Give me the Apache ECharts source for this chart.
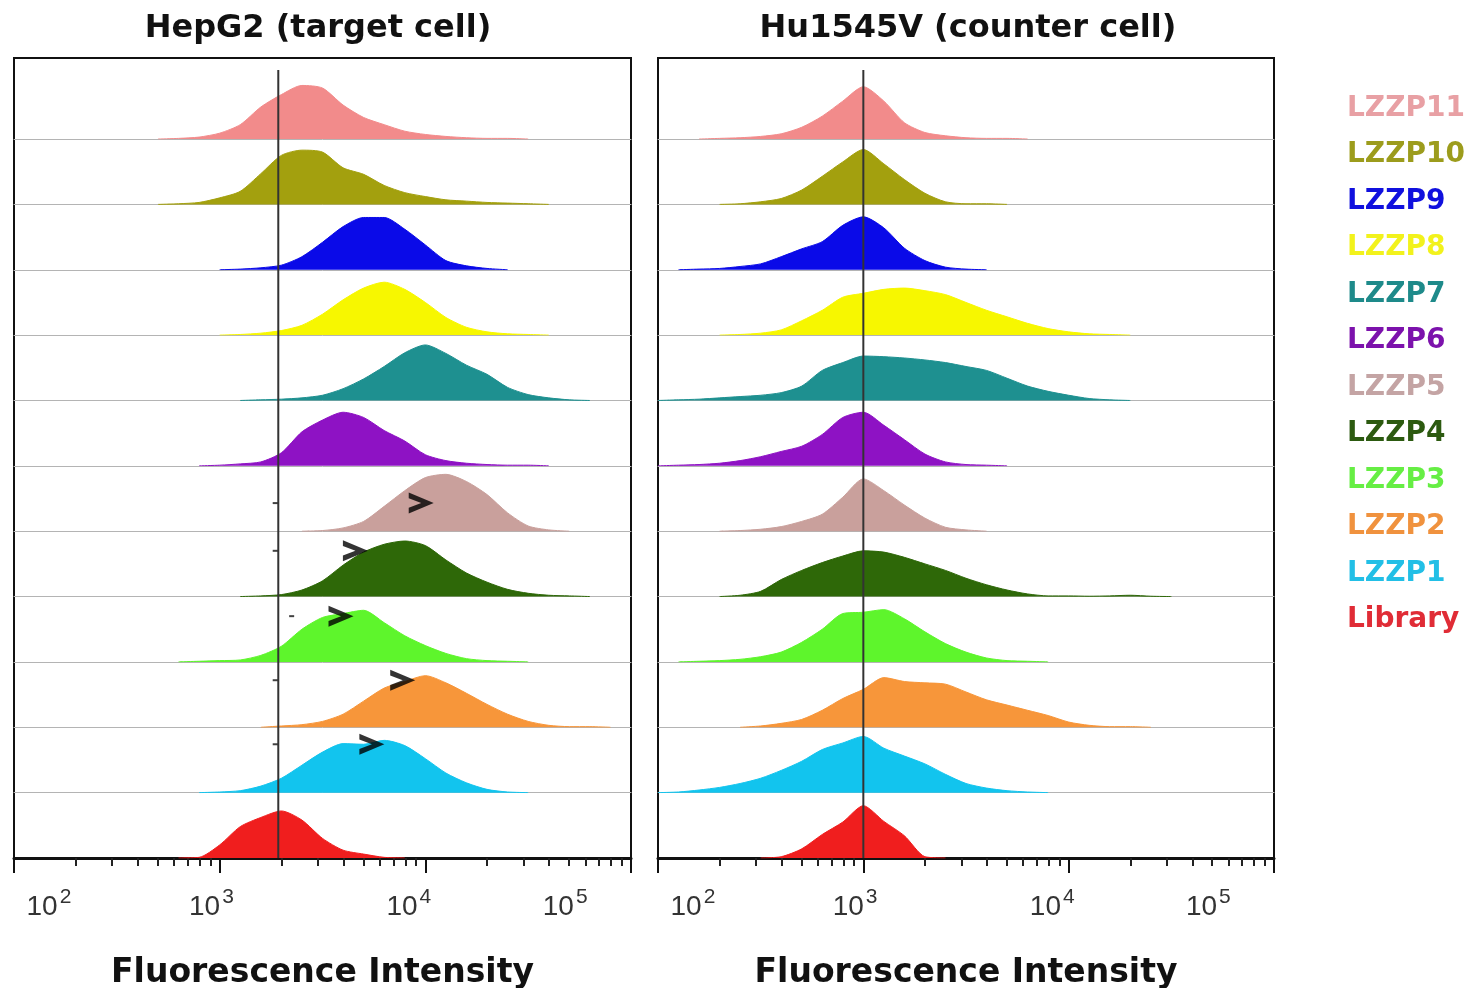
<!DOCTYPE html>
<html>
<head>
<meta charset="utf-8">
<script src="https://cdn.jsdelivr.net/npm/echarts@6/dist/echarts.min.js"></script>
<style>
  html, body { margin: 0; background: #fff; }
  #chart { width: 1478px; height: 988px; }
</style>
</head>
<body>
<div id="chart"></div>
<script>
// rows from the bottom of each panel up
const names = ['Library', 'LZZP1', 'LZZP2', 'LZZP3', 'LZZP4', 'LZZP5', 'LZZP6', 'LZZP7', 'LZZP8', 'LZZP9', 'LZZP10', 'LZZP11'];
const colors = ['#f01e1e', '#12c4ee', '#f7963a', '#5ef52c', '#2e6808', '#c9a09c', '#8e12c4', '#1e9090', '#f7f700', '#0a0ae8', '#a3a00e', '#f28b8b'];
const legendColors = ['#e02c36', '#22bfe6', '#f0923e', '#66ee44', '#2c5a10', '#c4a4a4', '#7c12ac', '#1e8a8a', '#f2f21c', '#1010de', '#9c9c1c', '#e8a0a4'];

// histogram heights (% of row height) on log10 bins of width 0.1, first bin at *Start
const binWidth = 0.1;
const hepStart = [2.8, 2.9, 3.2, 2.8, 3.1, 3.4, 2.9, 3.1, 3.0, 3.0, 2.7, 2.7];
const hepHeights = [
  [0, 1, 20, 48, 62, 72, 58, 30, 12, 6, 1, 0],
  [0, 1, 3, 10, 22, 42, 62, 75, 74, 80, 72, 52, 30, 15, 5, 1, 0],
  [0, 2, 4, 9, 20, 40, 60, 70, 79, 68, 52, 35, 20, 9, 3, 1, 1, 0],
  [0, 1, 2, 3, 10, 24, 50, 68, 74, 79, 60, 40, 25, 13, 5, 2, 1, 0],
  [0, 1, 3, 10, 24, 48, 68, 80, 85, 78, 56, 36, 22, 11, 5, 2, 1, 0],
  [0, 1, 5, 15, 38, 62, 82, 87, 76, 56, 28, 8, 2, 0],
  [0, 1, 3, 6, 20, 52, 70, 82, 74, 54, 38, 17, 8, 4, 2, 1, 1, 0],
  [0, 1, 2, 4, 8, 18, 33, 52, 73, 85, 72, 54, 40, 20, 9, 4, 1, 0],
  [0, 1, 3, 7, 15, 32, 54, 72, 81, 70, 50, 27, 12, 5, 2, 1, 0],
  [0, 1, 3, 7, 20, 42, 66, 80, 80, 62, 38, 14, 6, 2, 0],
  [0, 1, 3, 10, 20, 47, 75, 83, 80, 56, 46, 29, 18, 12, 7, 5, 3, 2, 1, 0],
  [0, 1, 3, 9, 22, 49, 68, 82, 78, 52, 33, 22, 12, 7, 4, 2, 1, 1, 0]
];
const huStart = [2.5, 2.0, 2.4, 2.1, 2.3, 2.3, 2.0, 2.0, 2.3, 2.1, 2.3, 2.2];
const huHeights = [
  [0, 2, 14, 36, 55, 80, 56, 34, 2, 0],
  [0, 1, 4, 8, 14, 22, 34, 48, 66, 76, 86, 68, 56, 44, 28, 14, 7, 3, 1, 0],
  [0, 2, 6, 12, 26, 44, 58, 76, 70, 68, 66, 54, 42, 34, 26, 18, 8, 3, 1, 1, 0],
  [0, 1, 2, 4, 8, 15, 30, 50, 74, 76, 80, 66, 46, 28, 15, 6, 2, 1, 0],
  [0, 2, 8, 26, 40, 52, 62, 70, 68, 60, 50, 40, 28, 18, 10, 4, 1, 1, 0.5, 1, 2, 0.5, 0],
  [0, 1, 3, 7, 15, 26, 52, 80, 62, 40, 20, 6, 2, 0],
  [0, 1, 2, 4, 8, 14, 22, 30, 48, 74, 82, 62, 40, 18, 6, 2, 1, 0],
  [0, 1, 2, 4, 6, 8, 12, 22, 46, 58, 68, 67, 65, 62, 58, 52, 46, 34, 22, 14, 8, 3, 1, 0],
  [0, 1, 3, 8, 22, 38, 58, 64, 70, 72, 68, 62, 50, 38, 28, 18, 10, 5, 2, 1, 0],
  [0, 1, 2, 5, 9, 20, 32, 43, 68, 81, 64, 33, 14, 4, 1, 0],
  [0, 1, 4, 9, 22, 43, 65, 84, 62, 38, 17, 4, 1, 1, 0],
  [0, 1, 2, 4, 8, 18, 35, 58, 80, 58, 25, 10, 5, 2, 1, 1, 0]
];

const tickExps = [2, 3, 4, 5];
const labelPos = [2.17, 2.96, 3.92, 4.68];   // where the 10^n labels sit under the axis
const gates = [3.285, 3.0];

// HepG2 annotations, y in row units from the bottom axis
const arrowX = [3.98, 3.66, 3.59, 3.89, 3.74];
const arrowY = [5.43, 4.70, 3.70, 2.72, 1.74];
const dashX = [3.27, 3.27, 3.35, 3.27, 3.27];

const boxTop = 58, boxH = 800, rowH = 65.36;
const panels = [
  { left: 14, width: 617, start: hepStart, heights: hepHeights, title: 'HepG2 (target cell)', center: 313 },
  { left: 658, width: 616, start: huStart, heights: huHeights, title: 'Hu1545V (counter cell)', center: 963 }
];

const minorTicks = [];
[2, 3, 4].forEach(d => { for (let k = 2; k <= 9; k++) minorTicks.push(d + Math.log10(k)); });

const grid = [], xAxis = [], yAxis = [], series = [];

panels.forEach((p, pi) => {
  names.forEach((name, r) => {
    const gi = grid.length, xi = xAxis.length, yi = yAxis.length;
    grid.push({ left: p.left, width: p.width, top: boxTop + boxH - (r + 1) * rowH, height: rowH,
      outerBoundsMode: 'none' });
    xAxis.push({
      gridIndex: gi, type: 'value', min: 2, max: 5,
      axisLine: { show: r > 0, lineStyle: { color: '#b4b4b4', width: 1 } },
      axisTick: { show: false }, axisLabel: { show: false }, splitLine: { show: false }
    });
    yAxis.push({ gridIndex: gi, type: 'value', min: 0, max: 100, show: false });
    series.push({
      type: 'line', name: name, xAxisIndex: xi, yAxisIndex: yi,
      data: p.heights[r].map((h, i) => [p.start[r] + i * binWidth, h]),
      symbol: 'none', smooth: 0.25, silent: true, z: 2,
      lineStyle: { color: colors[r], width: 1 },
      itemStyle: { color: colors[r] },
      areaStyle: { color: colors[r], opacity: 1 }
    });
  });

  // frame grid with the shared log axis
  const fi = grid.length;
  grid.push({ left: p.left, width: p.width, top: boxTop, height: boxH, show: true,
    borderColor: '#111', borderWidth: 2, outerBoundsMode: 'none' });
  const xi = xAxis.length;
  xAxis.push({
    gridIndex: fi, type: 'value', min: 2, max: 5, position: 'bottom',
    axisLine: { onZero: false, lineStyle: { color: '#111', width: 3 } },
    axisTick: { customValues: tickExps, length: 15, lineStyle: { color: '#111', width: 2 } },
    axisLabel: { show: false }, splitLine: { show: false }
  });
  xAxis.push({
    gridIndex: fi, type: 'value', min: 2, max: 5, position: 'bottom',
    axisLine: { show: false },
    axisTick: { customValues: minorTicks, length: 8, lineStyle: { color: '#222', width: 2 } },
    axisLabel: { show: false }, splitLine: { show: false }
  });
  xAxis.push({
    gridIndex: fi, type: 'value', min: 2, max: 5, position: 'bottom',
    axisLine: { show: false }, axisTick: { show: false }, splitLine: { show: false },
    name: 'Fluorescence Intensity', nameLocation: 'middle', nameGap: 99,
    nameTextStyle: { fontFamily: 'DejaVu Sans', fontWeight: 'bold', fontSize: 33, color: '#111' },
    axisLabel: {
      customValues: labelPos, margin: 29,
      formatter: v => '{b|10}{e|' + Math.round(v) + '}',
      rich: {
        b: { fontFamily: 'Liberation Sans', fontSize: 28, color: '#333' },
        e: { fontFamily: 'Liberation Sans', fontSize: 21, color: '#333', padding: [0, 0, 20, 2] }
      }
    }
  });
  const yi = yAxis.length;
  yAxis.push({ gridIndex: fi, type: 'value', min: 0, max: boxH / rowH, show: false });

  series.push({
    type: 'line', xAxisIndex: xi, yAxisIndex: yi, symbol: 'none', silent: true, z: 5,
    data: [[gates[pi], 0], [gates[pi], (boxH - 12) / rowH]],
    lineStyle: { color: '#333', width: 2 }
  });
  if (pi === 0) {
    series.push({
      type: 'scatter', xAxisIndex: xi, yAxisIndex: yi, silent: true, z: 6,
      data: arrowX.map((x, i) => [x, arrowY[i]]),
      symbol: 'path://M0,0 L24,11 L0,22 L0,16 L12,11 L0,6 Z', symbolSize: [25, 21],
      itemStyle: { color: '#000' }
    });
    series.push({
      type: 'scatter', xAxisIndex: xi, yAxisIndex: yi, silent: true, z: 6,
      data: dashX.map((x, i) => [x, arrowY[i]]),
      symbol: 'rect', symbolSize: [5, 2], itemStyle: { color: '#111' }
    });
  }
});

const chart = echarts.init(document.getElementById('chart'));
chart.setOption({
  animation: false,
  backgroundColor: '#fff',
  title: panels.map(p => ({
    text: p.title, left: p.center, top: 8, textAlign: 'center',
    textStyle: { fontFamily: 'DejaVu Sans', fontWeight: 'bold', fontSize: 32, color: '#111' }
  })),
  legend: {
    orient: 'vertical', left: 1336, top: 88, itemWidth: 0, itemHeight: 0, itemGap: 15.5,
    selectedMode: false,
    textStyle: { fontFamily: 'DejaVu Sans', fontWeight: 'bold', fontSize: 28, lineHeight: 31 },
    data: names.map((n, i) => ({ name: n, textStyle: { color: legendColors[i] } })).reverse()
  },
  grid, xAxis, yAxis, series
});
</script>
</body>
</html>
